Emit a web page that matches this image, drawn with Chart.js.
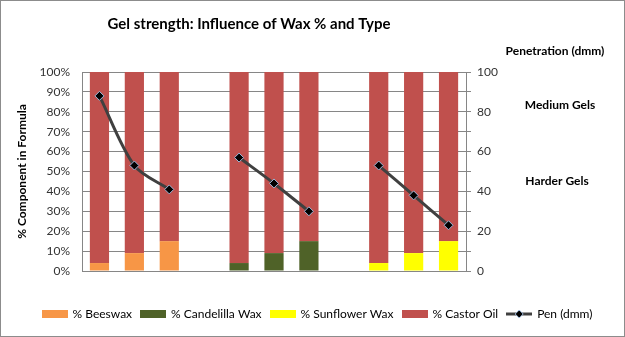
<!DOCTYPE html>
<html>
<head>
<meta charset="utf-8">
<script src="https://cdn.jsdelivr.net/npm/chart.js@4"></script>
<style>
  body { margin: 0; background: #fff; }
  #wrap { width: 625px; height: 337px; box-sizing: border-box; border: 1px solid #8c8c8c; }
</style>
</head>
<body>
<div id="wrap"><canvas id="gelChart" width="623" height="335"></canvas></div>
<script>
// chart data
const categories = ['B1', 'B2', 'B3', '', 'C1', 'C2', 'C3', '', 'S1', 'S2', 'S3'];
const beeswax = [4, 9, 15, null, null, null, null, null, null, null, null];
const candelilla = [null, null, null, null, 4, 9, 15, null, null, null, null];
const sunflower = [null, null, null, null, null, null, null, null, 4, 9, 15];
const castorOil = [96, 91, 85, null, 96, 91, 85, null, 96, 91, 85];
const penetration = [88, 53, 41, null, 57, 44, 30, null, 53, 38, 23];

const FONT = 'Lato, "Open Sans", sans-serif';
Chart.defaults.font.family = FONT;
Chart.defaults.font.size = 12;
Chart.defaults.color = '#333';

// legend swatches
function barSwatch(color) {
  const c = document.createElement('canvas');
  c.width = 26; c.height = 8;
  const g = c.getContext('2d');
  g.fillStyle = color;
  g.fillRect(0, 0, 26, 8);
  return c;
}
function lineSwatch() {
  const c = document.createElement('canvas');
  c.width = 26; c.height = 10;
  const g = c.getContext('2d');
  g.strokeStyle = '#404040';
  g.lineWidth = 3;
  g.beginPath(); g.moveTo(0, 5); g.lineTo(26, 5); g.stroke();
  g.fillStyle = '#000';
  g.strokeStyle = '#9bb7d9';
  g.lineWidth = 1;
  g.beginPath(); g.moveTo(13, 1); g.lineTo(17, 5); g.lineTo(13, 9); g.lineTo(9, 5); g.closePath();
  g.fill(); g.stroke();
  return c;
}

// extra texts (title, right axis caption, gel notes)
const textPlugin = {
  id: 'texts',
  afterDraw(chart) {
    const ctx = chart.ctx;
    ctx.save();
    ctx.fillStyle = '#000';
    ctx.textAlign = 'center';
    ctx.textBaseline = 'middle';
    ctx.font = 'bold 15px ' + FONT;
    ctx.fillText('Gel strength: Influence of Wax % and Type', 248, 23);
    ctx.font = 'bold 12px ' + FONT;
    ctx.fillText('Penetration (dmm)', 554, 50);
    ctx.fillText('Medium Gels', 559, 104);
    ctx.fillText('Harder Gels', 556, 180);
    ctx.restore();
  }
};

const ctx = document.getElementById('gelChart').getContext('2d');
new Chart(ctx, {
  data: {
    labels: categories,
    datasets: [
      {
        type: 'line',
        label: 'Pen (dmm)',
        data: penetration,
        yAxisID: 'y1',
        borderColor: '#404040',
        borderWidth: 3,
        tension: 0.3,
        pointStyle: 'rectRot',
        pointRadius: 4.5,
        pointBackgroundColor: '#000',
        pointBorderColor: '#9bb7d9',
        pointBorderWidth: 1,
        spanGaps: false,
        order: 0
      },
      { type: 'bar', label: '% Beeswax', data: beeswax, backgroundColor: '#f79646', stack: 's', order: 1 },
      { type: 'bar', label: '% Candelilla Wax', data: candelilla, backgroundColor: '#4f6228', stack: 's', order: 1 },
      { type: 'bar', label: '% Sunflower Wax', data: sunflower, backgroundColor: '#ffff00', stack: 's', order: 1 },
      { type: 'bar', label: '% Castor Oil', data: castorOil, backgroundColor: '#c0504d', stack: 's', order: 1 }
    ]
  },
  options: {
    responsive: false,
    animation: false,
    datasets: { bar: { barPercentage: 0.55, categoryPercentage: 1 } },
    layout: { padding: { left: 10, right: 0, top: 71, bottom: 6 } },
    plugins: {
      tooltip: { enabled: false },
      legend: {
        position: 'bottom',
        labels: {
          usePointStyle: true,
          pointStyleWidth: 24,
          boxHeight: 8,
          padding: 9,
          color: '#222',
          generateLabels(chart) {
            const order = [1, 2, 3, 4, 0];
            return order.map(i => {
              const ds = chart.data.datasets[i];
              return {
                text: ds.label,
                pointStyle: i === 0 ? lineSwatch() : barSwatch(ds.backgroundColor),
                fillStyle: ds.backgroundColor || '#404040',
                strokeStyle: 'transparent',
                lineWidth: 0,
                datasetIndex: i
              };
            });
          }
        }
      }
    },
    scales: {
      x: {
        stacked: true,
        ticks: { display: false },
        grid: { display: false },
        border: { color: '#868686' },
        afterFit(scale) { scale.height = 28; }
      },
      y: {
        stacked: true,
        position: 'left',
        min: 0, max: 100,
        ticks: { stepSize: 10, padding: 12, callback: v => v + '%' },
        grid: { color: '#868686', drawTicks: false },
        border: { color: '#868686' },
        title: { display: true, text: '% Component in Formula', font: { weight: 'bold', size: 12 }, color: '#000', padding: { top: 4, bottom: 0 } },
        afterFit(scale) { scale.width = 71; }
      },
      y1: {
        position: 'right',
        min: 0, max: 100,
        ticks: { stepSize: 10, padding: 6, callback: v => (v % 20 === 0 ? v : '') },
        grid: { drawOnChartArea: false, color: '#868686', tickLength: 5 },
        border: { color: '#868686' },
        afterFit(scale) { scale.width = 158; }
      }
    }
  },
  plugins: [textPlugin]
});
</script>
</body>
</html>
